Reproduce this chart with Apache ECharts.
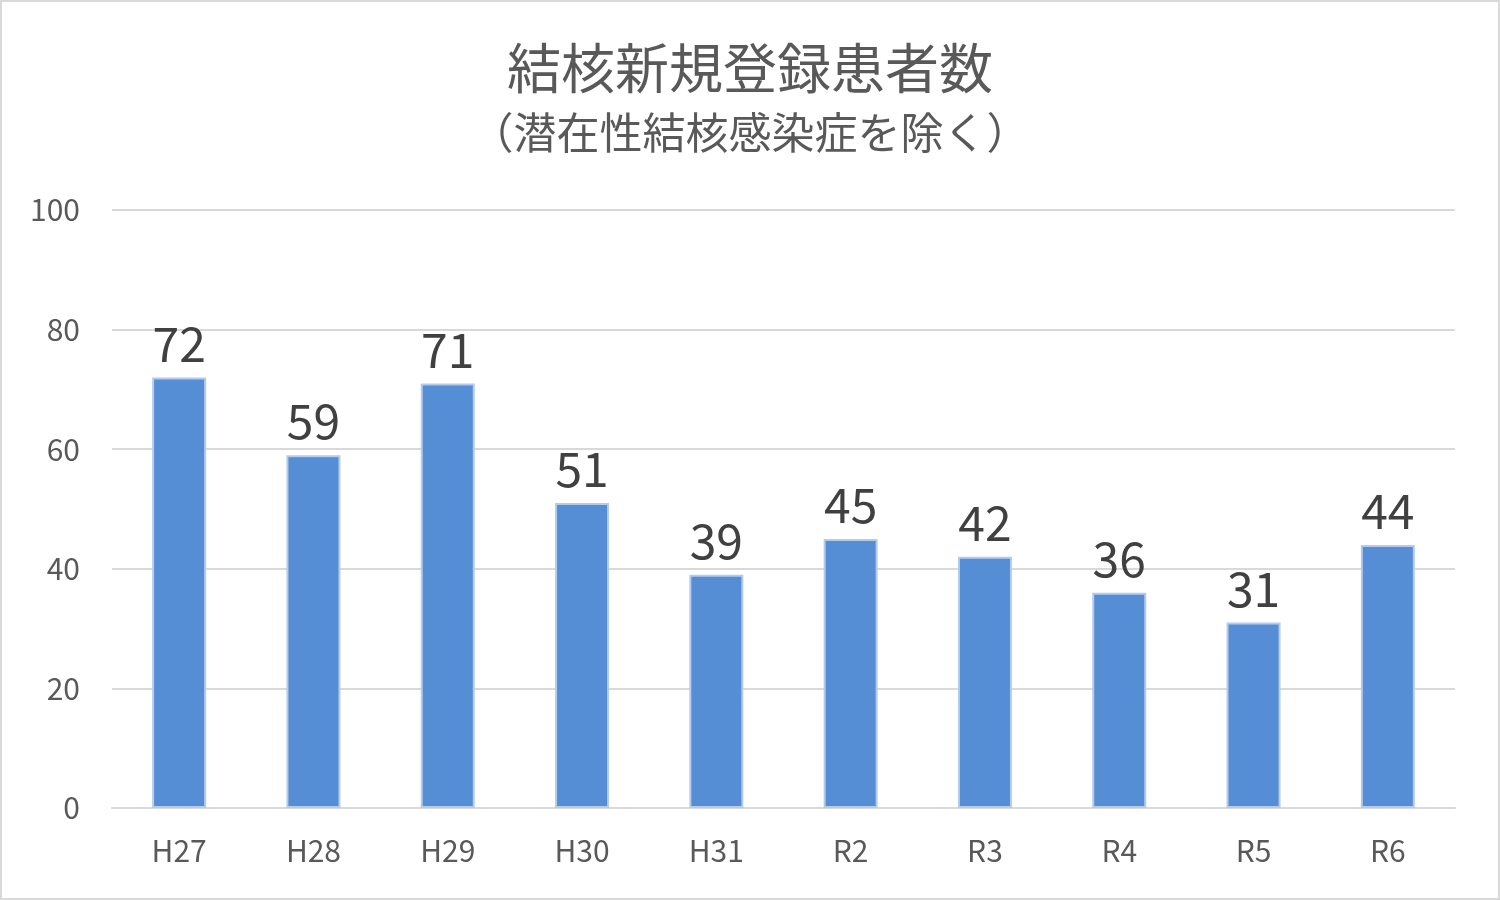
<!DOCTYPE html>
<html><head><meta charset="utf-8">
<script src="https://cdn.jsdelivr.net/npm/echarts@6/dist/echarts.min.js"></script>
<style>html,body{margin:0;padding:0;background:#fff}#c{width:1500px;height:900px;box-sizing:border-box;border:2px solid #d9d9d9}</style>
</head><body><div id="c"></div>
<script>
const categories=['H27','H28','H29','H30','H31','R2','R3','R4','R5','R6'];
const values=[72,59,71,51,39,45,42,36,31,44];
const yTicks=[0,20,40,60,80,100];
const chart=echarts.init(document.getElementById('c'));
const ff='"Noto Sans CJK JP","Noto Sans",sans-serif';
chart.setOption({
  animation:false,
  title:[
    {text:'結核新規登録患者数',left:'center',top:34,textStyle:{fontFamily:ff,fontSize:54,fontWeight:'normal',color:'#595959'}},
    {text:'（潜在性結核感染症を除く）',left:'center',top:104,textStyle:{fontFamily:ff,fontSize:43,fontWeight:'normal',color:'#595959'}}
  ],
  grid:{left:110,right:43,top:208,bottom:90},
  xAxis:{type:'category',data:categories,axisTick:{show:false},
    axisLine:{lineStyle:{color:'#d9d9d9',width:2}},
    axisLabel:{fontFamily:ff,fontSize:30,color:'#595959',margin:28}},
  yAxis:{type:'value',min:0,max:100,interval:20,
    axisLabel:{fontFamily:ff,fontSize:30,color:'#595959',margin:32,formatter:v=>yTicks.includes(v)?String(v):''},
    splitLine:{lineStyle:{color:'#d9d9d9',width:2}},axisLine:{show:false},axisTick:{show:false}},
  series:[{type:'bar',data:values,barWidth:54,
    itemStyle:{color:'#558ed5',borderColor:'#b4cbeb',borderWidth:2},
    label:{show:true,position:'top',distance:10,fontFamily:ff,fontSize:48,color:'#404040'}}]
});
</script></body></html>
